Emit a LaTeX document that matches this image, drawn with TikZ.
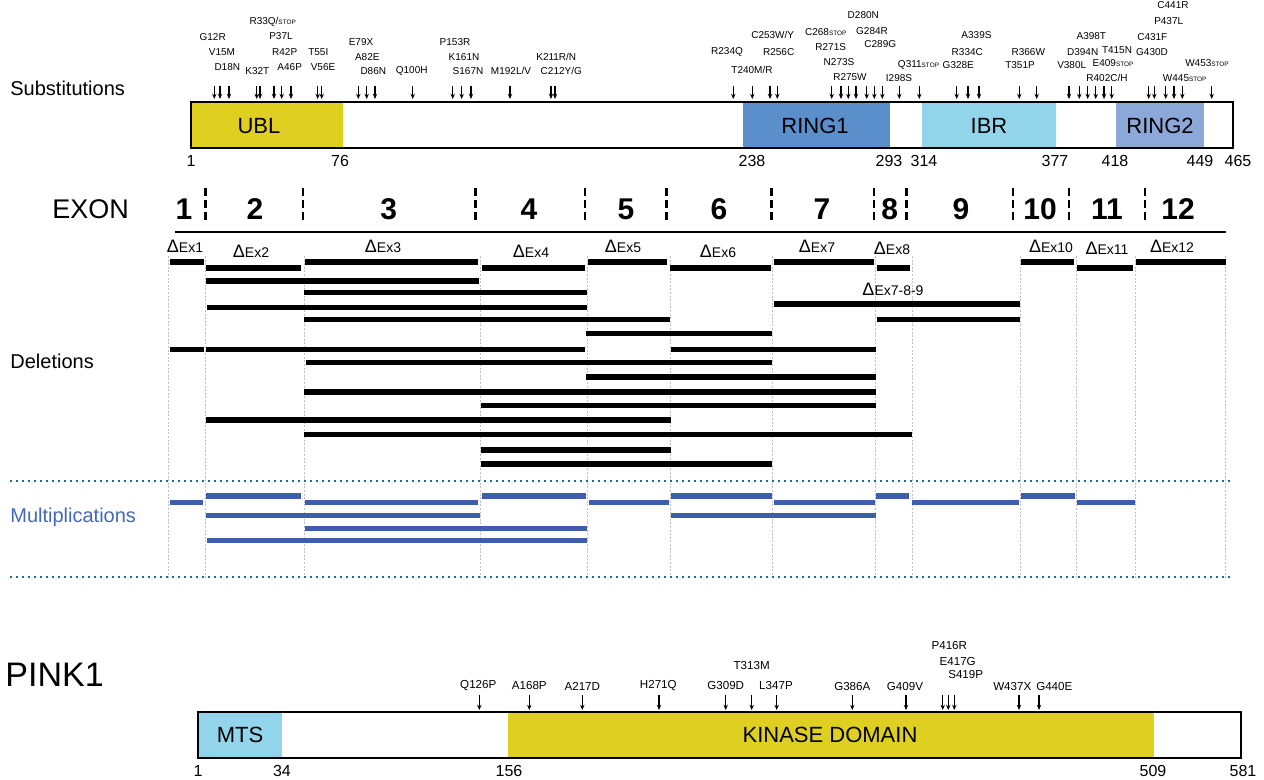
\documentclass[tikz,border=0pt]{standalone}
\usepackage{fontspec}
\setmainfont{Liberation Sans}
\usetikzlibrary{arrows.meta}
\definecolor{ublyellow}{RGB}{223,207,32}
\definecolor{ringone}{RGB}{91,143,203}
\definecolor{ibrblue}{RGB}{146,213,234}
\definecolor{ringtwo}{RGB}{139,168,216}
\definecolor{multblue}{RGB}{61,94,170}
\definecolor{multtext}{RGB}{68,103,185}
\definecolor{teal}{RGB}{30,110,140}
\tikzset{
  mut/.style={font=\fontsize{5}{5}\selectfont, inner sep=0pt},
  pmut/.style={font=\fontsize{5.8}{6}\selectfont, inner sep=0pt},
  marker/.style={-{Stealth[length=2.6pt,width=2.2pt]}, line width=0.55pt},
  delbar/.style={line width=2.7pt},
  mulbar/.style={line width=2.7pt, multblue},
  gridline/.style={draw=gray!50, line width=0.5pt, dash pattern=on 1pt off 0.8pt},
  exsep/.style={line width=1.4pt, dash pattern=on 4pt off 2pt},
  bandline/.style={teal, line width=1pt, dotted},
  dlab/.style={font=\fontsize{7}{7}\selectfont, inner sep=0pt},
  num/.style={font=\fontsize{8}{8}\selectfont, inner sep=0pt},
  dom/.style={font=\fontsize{11}{11}\selectfont, inner sep=0pt},
  side/.style={font=\fontsize{10}{10}\selectfont, anchor=west, inner sep=0pt},
  exnum/.style={font=\fontsize{15}{15}\selectfont\bfseries, inner sep=0pt},
}
\newcommand{\stp}{{\fontsize{3.2}{3.2}\selectfont STOP}}
\newcommand{\dex}[1]{{\fontsize{9}{9}\selectfont Δ}#1}

\begin{document}
\begin{tikzpicture}[x=0.5pt, y=-0.5pt]
  \useasboundingbox (0,0) rectangle (1264,780);

  % parkin
  \node[side] (subst) at (10,88) {Substitutions};
  \fill[ublyellow] (191,102) rectangle (343,148);
  \fill[ringone] (743,102) rectangle (890,148);
  \fill[ibrblue] (922,102) rectangle (1056,148);
  \fill[ringtwo] (1116,102) rectangle (1204,148);
  \draw[line width=0.8pt] (191,102) rectangle (1233,148);
  \node[dom] (ubl) at (259,126) {UBL};
  \node[dom] (ring1) at (815,126) {RING1};
  \node[dom] (ibr) at (989,126) {IBR};
  \node[dom] (ring2) at (1160,126) {RING2};
  \foreach \x/\t [count=\i] in {191/1,340/76,752/238,889/293,924/314,1055/377,1115/418,1200/449,1238/465}
    \node[num] (pn\i) at (\x,161) {\t};

  \foreach \x in {214.3,220,229,256.7,260,274,281.7,291,317.7,321.7,358.3,366.7,375,412.7,
                  452.7,461.7,471,510,551,555,733.3,752.3,770,777.3,831.7,841,848.3,856,866.7,
                  874.3,882.3,899.3,919.3,956.7,968,979,1019.3,1036.7,1069,1079.3,1087.7,1095.7,
                  1104,1111.7,1148.7,1154.3,1165.7,1174,1182.3,1211.7}
    \draw[marker] (\x,86) -- (\x,99);

  \foreach \x/\y/\t [count=\i] in {212.7/36.7/G12R, 222/52.3/V15M, 227.3/66.7/D18N, 257.3/71/K32T,
      272.7/21.7/{R33Q/\stp}, 281/36/P37L, 284.7/52.3/R42P, 289.7/66.7/A46P, 318.3/52.3/T55I,
      323/66.7/V56E, 361/42.3/E79X, 367.3/57/A82E, 373.3/71/D86N, 411.7/71/Q100H,
      455/42.3/P153R, 464/57/K161N, 468/71/S167N, 511/71/{M192L/V}, 556.3/57/{K211R/N},
      561.3/71/{C212Y/G}, 727/52.3/R234Q, 752/70/{T240M/R}, 772.7/35/{C253W/Y},
      778.7/52.3/R256C, 825.7/32.3/{C268\stp}, 830.7/46.7/R271S, 839/61.7/N273S,
      850/76.7/R275W, 863.3/15/D280N, 872/30.7/G284R, 880.3/44.3/C289G, 899/78.3/I298S,
      918.5/65.3/{Q311\stp}, 958.3/65.3/G328E, 967.3/51.7/R334C, 976.5/35.5/A339S,
      1020/65/T351P, 1028.3/52.3/R366W, 1071.7/65/V380L, 1082.7/52.3/D394N,
      1091.3/36/A398T, 1107/78.3/{R402C/H}, 1113/62.7/{E409\stp}, 1117/50/T415N,
      1152/52.3/G430D, 1152.3/36.7/C431F, 1168.7/20.7/P437L, 1173/5/C441R,
      1184.7/77.7/{W445\stp}, 1207/62.7/{W453\stp}}
    \node[mut] (s\i) at (\x,\y) {\t};

  % exons
  \node[font=\fontsize{13.5}{13.5}\selectfont, anchor=west, inner sep=0pt] (exon) at (52,209) {EXON};
  \foreach \x in {205.4,302.9,475.7,585,666.8,771.3,873.9,906.8,1013,1069,1145}
    \draw[exsep] (\x,188) -- (\x,221);
  \foreach \x/\t [count=\i] in {184/1,255/2,388.6/3,529/4,626/5,719/6,822/7,889.6/8,961/9,1040/10,1107/11,1178/12}
    \node[exnum] (ex\i) at (\x,209) {\t};
  \draw[line width=1pt] (175,232.5) -- (1226,232.5);

  % grid
  \foreach \x in {168,205.5,304,480,587,670,772,875.5,912,1020,1076.5,1135,1225.7}
    \draw[gridline] (\x,256) -- (\x,580);

  % deletions
  \node[side] (del) at (10,361) {Deletions};
  \foreach \x/\y/\t [count=\i] in {185/246/1,251/251.5/2,383/246/3,531/251.5/4,623/246/5,
      718/251.5/6,817/246/7,892/248/8,1051/246/10,1107/248/11,1172/246/12}
    \node[dlab] (d\i) at (\x,\y) {\dex{Ex\t}};
  \node[dlab] (d789) at (893,289) {\dex{Ex7-8-9}};
  \foreach \a/\b/\y in {170/204/262, 305/478/262, 588/667/262, 774/874/262, 1021/1074/262,
      1136/1226/262, 206/301/268, 482/585/268, 670/771/268, 877/910/268, 1077/1133/268,
      206/479/281, 304/587/292.3, 774/1020/304, 207/587/307.3, 304/670/319.5, 877/1020/319.5,
      586/772/333.3, 170/204/349.3, 206/585/349.3, 671/876/349.3, 306/772/362.3,
      586/876/377, 304/876/392, 481/876/405.3, 206/671/420, 304/912/434.3,
      481/671/450, 481/772/464}
    \draw[delbar] (\a,\y) -- (\b,\y);

  % multiplications
  \draw[bandline] (10,481) -- (1233,481);
  \draw[bandline] (10,577) -- (1233,577);
  \node[side, text=multtext] (mult) at (10,517) {Multiplications};
  \foreach \a/\b/\y in {206/301/496, 482/586/496, 671/772/496, 876/909/496, 1021/1075/496,
      170/203/502.3, 305/478/502.3, 589/669/502.3, 774/875/502.3, 912/1019/502.3,
      1077/1135/502.3, 206/480/515.7, 671/876/515.7, 305/587/528.3, 207/587/540.7}
    \draw[mulbar] (\a,\y) -- (\b,\y);

  % PINK1
  \node[font=\fontsize{17}{17}\selectfont, anchor=west, inner sep=0pt] (pink) at (5,675) {PINK1};
  \fill[ibrblue] (198,712) rectangle (282,758);
  \fill[ublyellow] (508,712) rectangle (1154,758);
  \draw[line width=0.8pt] (198,712) rectangle (1241,758);
  \node[dom] (mts) at (240,735) {MTS};
  \node[dom] (kin) at (830,735) {KINASE DOMAIN};
  \foreach \x/\t [count=\i] in {198/1,282/34,509/156,1153/509,1243/581}
    \node[num] (kn\i) at (\x,771) {\t};
  \foreach \x in {479.3,529.3,582.3,659,725.7,751.7,776.7,852.3,906,942.7,948.3,954.3,1019,1039}
    \draw[marker] (\x,695) -- (\x,710);
  \foreach \x/\y/\t [count=\i] in {478.3/686/Q126P, 529.3/686/A168P, 582.3/686/A217D,
      658.3/686/H271Q, 725.7/686/G309D, 751.7/666/T313M, 776/686/L347P, 852.3/686.7/G386A,
      905/686.7/G409V, 949.3/645.7/P416R, 957.7/661.7/E417G, 965.7/675/S419P,
      1012.3/686.7/W437X, 1054.3/686.7/G440E}
    \node[pmut] (k\i) at (\x,\y) {\t};
\end{tikzpicture}
\end{document}
